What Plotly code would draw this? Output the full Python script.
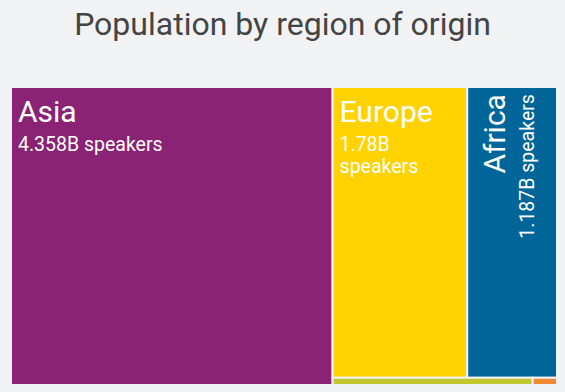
import plotly.graph_objects as go

regions = ["Asia", "Europe", "Africa", "Americas", "Pacific"]
speakers_b = [4.358, 1.78, 1.187, 0.066, 0.008]
colors = ["#8a2373", "#ffd200", "#00669a", "#c1c72f", "#f08a35"]

W, H = 565, 392
ml, mr, mt, mb = 11, 8, 87, 7

NB = "<span style='font-size:16px'>\u00a0</span>"          # small left inset
SPACER = "<span style='font-size:18px'>\u00a0</span><br>"  # small top inset


def sub_line(s):
    return f"{NB}<span style='font-size:19.5px'>{s}</span>"


def label_text(name, v):
    title = f"<sup>{NB}<span style='font-size:30px'>{name}</span></sup>"
    if name == "Asia":
        return f"{SPACER}{title}<br>{sub_line(f'{v}B speakers')}"
    if name == "Europe":
        return f"{SPACER}{title}<br>{sub_line(f'{v}B')}<br>{sub_line('speakers')}"
    return ""


texts = [label_text(n, v) for n, v in zip(regions, speakers_b)]

fig = go.Figure(go.Treemap(
    labels=regions,
    parents=[""] * len(regions),
    values=speakers_b,
    text=texts,
    textinfo="text",
    textposition="top left",
    textfont=dict(family="Roboto", size=17, color="white"),
    marker=dict(colors=colors, line=dict(color="#f1f2f4", width=2),
                pad=dict(t=0, l=0, r=0, b=0)),
    tiling=dict(pad=0, packing="squarify", squarifyratio=2),
    pathbar=dict(visible=False),
    domain=dict(x=[0, 1], y=[0, 1]),
    sort=True,
    hoverinfo="label+value",
))

# Africa label is rotated; place it at the top-left of the Africa tile
total = sum(speakers_b)
fa = speakers_b[0] / total
right_frac = speakers_b[1] / (speakers_b[1] + speakers_b[2])
x_africa = fa + (1 - fa) * right_frac

fig.add_annotation(
    x=x_africa, y=1, xref="paper", yref="paper",
    xanchor="left", yanchor="top", xshift=7, yshift=-5,
    text=(f"<sup><span style='font-size:30px'>{regions[2]}</span></sup><br>"
          f"<span style='font-size:19.5px'>{speakers_b[2]}B speakers</span>"),
    textangle=-90, align="right", showarrow=False,
    font=dict(family="Roboto", size=17, color="white"),
)

fig.update_layout(
    width=W, height=H,
    margin=dict(l=ml, r=mr, t=mt, b=mb),
    paper_bgcolor="#f1f2f4",
    title=dict(text="Population by region of origin", x=0.5, xanchor="center",
               y=0.94, yanchor="middle",
               font=dict(family="Roboto", size=32, color="#444444")),
)

fig.write_html("out.html",
               config={"displayModeBar": False},
               post_script="document.body.style.margin='0';"
                           "document.body.style.background='#f1f2f4';")
